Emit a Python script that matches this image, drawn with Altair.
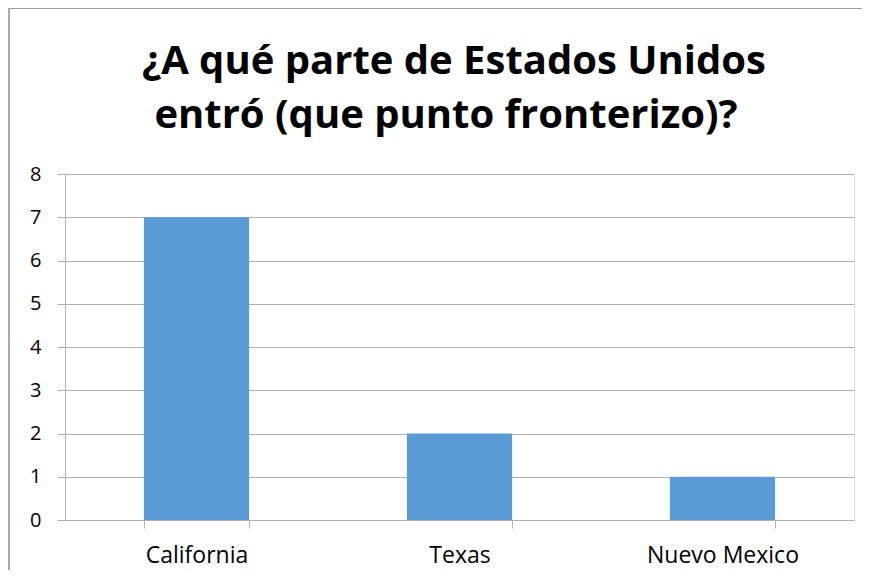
import altair as alt
import pandas as pd

categories = ["California", "Texas", "Nuevo Mexico"]
values = [7, 2, 1]
y_ticks = [0, 1, 2, 3, 4, 5, 6, 7, 8]
title_lines = ["¿A qué parte de Estados Unidos", "entró (que punto fronterizo)?"]

df = pd.DataFrame({"estado": categories, "valor": values})

FONT = "Open Sans"
GRID = "#b0b0b0"

bars = alt.Chart(df).mark_bar(color="#5B9BD5").encode(
    x=alt.X(
        "estado:N",
        sort=categories,
        title=None,
        scale=alt.Scale(paddingInner=0.6, paddingOuter=0.3),
        axis=alt.Axis(
            labelAngle=0,
            labelFont=FONT,
            labelFontSize=23,
            labelColor="#000000",
            labelPadding=16,
            tickBand="extent",
            tickSize=8,
            tickColor=GRID,
            domainColor=GRID,
            grid=False,
        ),
    ),
    y=alt.Y(
        "valor:Q",
        title=None,
        scale=alt.Scale(domain=[0, 8], nice=False),
        axis=alt.Axis(
            values=y_ticks,
            labelFont=FONT,
            labelFontSize=20,
            labelColor="#000000",
            labelPadding=16,
            tickSize=8,
            tickColor=GRID,
            domainColor=GRID,
            gridColor=GRID,
        ),
    ),
)

border_left = alt.Chart(df).mark_rule(color="#a0a0a0", strokeWidth=1).encode(
    x=alt.value(-56), y=alt.value(-166), y2=alt.value(400)
)
border_top = alt.Chart(df).mark_rule(color="#a0a0a0", strokeWidth=1).encode(
    x=alt.value(-56), x2=alt.value(830), y=alt.value(-165.5)
)

title1 = alt.Chart(pd.DataFrame({"t": [title_lines[0]]})).mark_text(
    font=FONT, fontSize=40, fontWeight="bold", color="#000000",
    align="center", baseline="alphabetic",
).encode(text="t:N", x=alt.value(389), y=alt.value(-100))

title2 = alt.Chart(pd.DataFrame({"t": [title_lines[1]]})).mark_text(
    font=FONT, fontSize=40, fontWeight="bold", color="#000000",
    align="center", baseline="alphabetic",
).encode(text="t:N", x=alt.value(381), y=alt.value(-46))

chart = (
    alt.layer(bars, border_left, border_top, title1, title2)
    .properties(
        width=789,
        height=346,
        autosize=alt.AutoSizeParams(type="none"),
        padding={"left": 57, "top": 166, "right": 8, "bottom": 50},
    )
    .configure_view(stroke=None)
    .configure(background="white")
)

chart.save("out.html", embed_options={"renderer": "svg", "actions": False})
